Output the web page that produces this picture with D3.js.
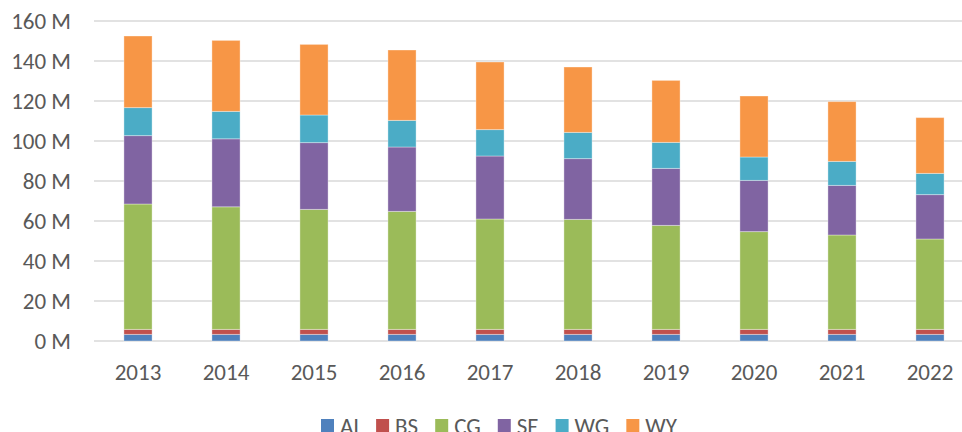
<!DOCTYPE html>
<html><head><meta charset="utf-8">
<script src="https://cdn.jsdelivr.net/npm/d3@7"></script>
<style>body{margin:0;background:#fff}svg{display:block}</style>
</head><body>
<svg id="c" width="962" height="432"></svg>
<script>
const years = ["2013","2014","2015","2016","2017","2018","2019","2020","2021","2022"];
const seriesNames = ["AI","BS","CG","SE","WG","WY"];
const AI = [3.3,3.3,3.3,3.3,3.3,3.3,3.3,3.3,3.3,3.3];
const BS = [2.5,2.5,2.5,2.5,2.5,2.5,2.5,2.5,2.5,2.5];
const CG = [62.7,61.3,60.0,59.0,55.2,55.0,52.0,48.9,47.2,45.2];
const SE = [34.2,34.0,33.4,32.2,31.5,30.4,28.5,25.6,24.8,22.2];
const WG = [14.0,13.7,13.8,13.3,13.2,13.1,13.0,11.7,12.0,10.6];
const WY = [35.8,35.5,35.3,35.2,33.8,32.7,31.0,30.5,29.9,27.9];
const yTicks = [0,20,40,60,80,100,120,140,160];
const colors = ["#4F81BD","#C0504D","#9BBB59","#8064A2","#4BACC6","#F79646"];

const svg = d3.select("#c");
const font = "Carlito, Calibri, Lato, sans-serif";
const txt = "#595959";
const fs = 23;
const vals = [AI,BS,CG,SE,WG,WY];
const rows = years.map((y,i)=>{const r={year:y}; seriesNames.forEach((s,k)=>r[s]=vals[k][i]); return r;});

const y = d3.scaleLinear().domain([0,160]).range([341,21]);
const x = d3.scaleBand().domain(years).range([94,974]).paddingInner(0.68).paddingOuter(0.34);

// gridlines
svg.append("g").selectAll("line").data(yTicks).join("line")
  .attr("x1",94).attr("x2",962).attr("y1",d=>y(d)).attr("y2",d=>y(d))
  .attr("stroke","#d9d9d9").attr("stroke-width",1.5);

// y labels
const yAxis = d3.axisLeft(y).tickValues(yTicks).tickFormat(d=>d+" M").tickSize(0).tickPadding(0);
const ga = svg.append("g").attr("transform","translate(71,0)").call(yAxis);
ga.select(".domain").remove();
ga.selectAll("text").attr("font-family",font).attr("font-size",fs).attr("fill",txt);

// x labels
const xAxis = d3.axisBottom(x).tickSize(0).tickPadding(0);
const gx = svg.append("g").attr("transform","translate(0,0)").call(xAxis);
gx.select(".domain").remove();
gx.selectAll("text").attr("dy",null).attr("y",380).attr("font-family",font).attr("font-size",fs).attr("fill",txt);

// stacked bars
const stack = d3.stack().keys(seriesNames)(rows);
svg.append("g").selectAll("g").data(stack).join("g")
  .attr("fill",(d,i)=>colors[i])
  .selectAll("rect").data(d=>d).join("rect")
  .attr("x",d=>x(d.data.year)).attr("width",x.bandwidth())
  .attr("y",d=>y(d[1])).attr("height",d=>y(d[0])-y(d[1]))
  .attr("stroke","rgba(255,255,255,0.35)").attr("stroke-width",1);

// legend
const lg = svg.append("g");
let lx = 321;
seriesNames.forEach((s,i)=>{
  lg.append("rect").attr("x",lx).attr("y",419).attr("width",13).attr("height",13).attr("fill",colors[i]);
  const t = lg.append("text").attr("x",lx+19).attr("y",434).attr("font-family",font).attr("font-size",fs).attr("fill",txt).text(s);
  lx += 19 + t.node().getComputedTextLength() + 17;
});
</script>
</body></html>
